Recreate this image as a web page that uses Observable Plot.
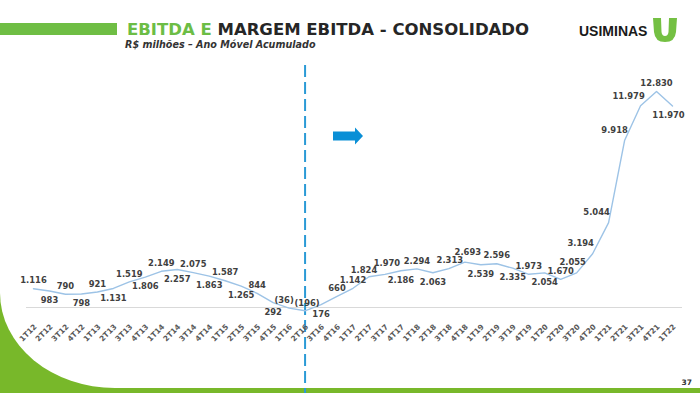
<!DOCTYPE html>
<html>
<head>
<meta charset="utf-8">
<script src="https://cdn.jsdelivr.net/npm/d3@7"></script>
<script src="https://cdn.jsdelivr.net/npm/@observablehq/plot@0.6"></script>
<style>
  html, body { margin: 0; padding: 0; }
  #page { position: relative; width: 700px; height: 393px; background: #78b82a; overflow: hidden; font-family: "DejaVu Sans", sans-serif; }
  #card { position: absolute; left: 0; top: 0; width: 700px; height: 388px; background: #fff; border-bottom-left-radius: 115px 95px; }
  #deco, #chart { position: absolute; left: 0; top: 0; }
</style>
</head>
<body>
<div id="page">
  <div id="card"></div>
  <svg id="deco" width="700" height="393" xmlns="http://www.w3.org/2000/svg">
    <rect x="0" y="23" width="117" height="12" fill="#6fbe44"/>
    <text x="127" y="35" font-family="DejaVu Sans" font-weight="bold" font-size="16.5" fill="#262626"><tspan fill="#6cbd45">EBITDA E</tspan> MARGEM EBITDA - CONSOLIDADO</text>
    <text x="125" y="48" font-family="DejaVu Sans" font-weight="bold" font-style="italic" font-size="9.6" fill="#333">R$ milhões – Ano Móvel Acumulado</text>
    <text x="579" y="35.5" font-family="Liberation Sans" font-weight="bold" font-size="14" fill="#1a1a1a">USIMINAS</text>
    <path d="M653,18 L661,18 L661.5,32 Q662,36 665,36 Q668,36 668.5,32 L669,18 L677,18 L676,32 Q675,42 665,42 Q655,42 654,32 Z" fill="#74c043"/>
    <path d="M333,131.5 L355,131.5 L355,127.5 L363,136 L355,144.5 L355,140.5 L333,140.5 Z" fill="#0a8fd6"/>
    <text x="692" y="385" text-anchor="end" font-family="DejaVu Sans" font-weight="bold" font-size="7.5" fill="#333">37</text>
  </svg>
  <div id="chart"></div>
</div>
<script>
const quarters = [
  "1T12","2T12","3T12","4T12","1T13","2T13","3T13","4T13",
  "1T14","2T14","3T14","4T14","1T15","2T15","3T15","4T15",
  "1T16","2T16","3T16","4T16","1T17","2T17","3T17","4T17",
  "1T18","2T18","3T18","4T18","1T19","2T19","3T19","4T19",
  "1T20","2T20","3T20","4T20","1T21","2T21","3T21","4T21","1T22"
];
const ebitda = [
  1116, 983, 790, 798, 921, 1131, 1519, 1806,
  2149, 2257, 2075, 1863, 1587, 1265, 844, 292,
  -36, -196, 176, 660, 1142, 1824, 1970, 2186,
  2294, 2063, 2313, 2693, 2539, 2596, 2335, 1973,
  2054, 1670, 2055, 3194, 5044, 9918, 11979, 12830, 11970
];
// label placement: a = above, b = below, l = above-left
const labelPlacement = [
  "a","b","a","b","a","b","a","b",
  "a","b","a","b","a","b","a","b",
  "a","a","b","a","a","a","a","b",
  "a","b","a","a","b","a","b","a",
  "b","a","a","l","l","l","l","a","b"
];
const dividerQuarter = "2T16";

// small nudges (px) for crowded labels: [dx, dy]
const labelNudge = {
  "1T16": [-5, 0], "2T16": [2, 0], "2T17": [-5, 2], "3T17": [2, -3],
  "3T18": [1, 0], "4T18": [3, -2], "3T20": [-4, -3], "1T22": [-4, 0], "2T21": [2, 0]
};

const data = quarters.map((q, i) => ({q, v: ebitda[i], p: labelPlacement[i]}));
const loc = d3.formatLocale({decimal: ",", thousands: ".", grouping: [3], currency: ["R$", ""]});
const f = loc.format(",");
const fmt = v => v < 0 ? `(${f(-v)})` : f(v);

const dxOf = {a: 0, b: 0, l: -12};
const dyOf = {a: -8, b: 9.5, l: -10};

const labelStyle = {fontSize: 8.4, fontWeight: "bold", fill: "#404040", fontFamily: "DejaVu Sans"};
const marks = [
  Plot.ruleY([0], {stroke: "#d9d9d9", strokeWidth: 1}),
  Plot.ruleX([dividerQuarter], {stroke: "#2b9ad6", strokeWidth: 2, strokeDasharray: "12,5", insetBottom: -86}),
  Plot.line(data, {x: "q", y: "v", stroke: "#9dc3e6", strokeWidth: 1.4}),
  ...data.map(d => {
    const [nx, ny] = labelNudge[d.q] || [0, 0];
    return Plot.text([d], {
      x: "q", y: "v", text: d => fmt(d.v),
      dx: dxOf[d.p] + nx, dy: dyOf[d.p] + ny, ...labelStyle
    });
  }),
  // category tick labels sitting under the zero line
  Plot.text(quarters, {
    x: d => d, y: () => 0, text: d => d, rotate: -45, textAnchor: "end", lineAnchor: "middle",
    dx: 2, dy: 18, fontSize: 7.5, fontWeight: "bold", fill: "#595959", fontFamily: "DejaVu Sans"
  })
];

const chart = Plot.plot({
  width: 700,
  height: 393,
  marginTop: 65,
  marginBottom: 86,
  marginLeft: 26,
  marginRight: 18,
  style: {background: "transparent", overflow: "visible", fontFamily: "DejaVu Sans"},
  x: {type: "point", domain: quarters, range: [33, 672], padding: 0, axis: null},
  y: {domain: [0, 12830], range: [307, 91], axis: null},
  marks
});
document.getElementById("chart").appendChild(chart);
</script>
</body>
</html>
